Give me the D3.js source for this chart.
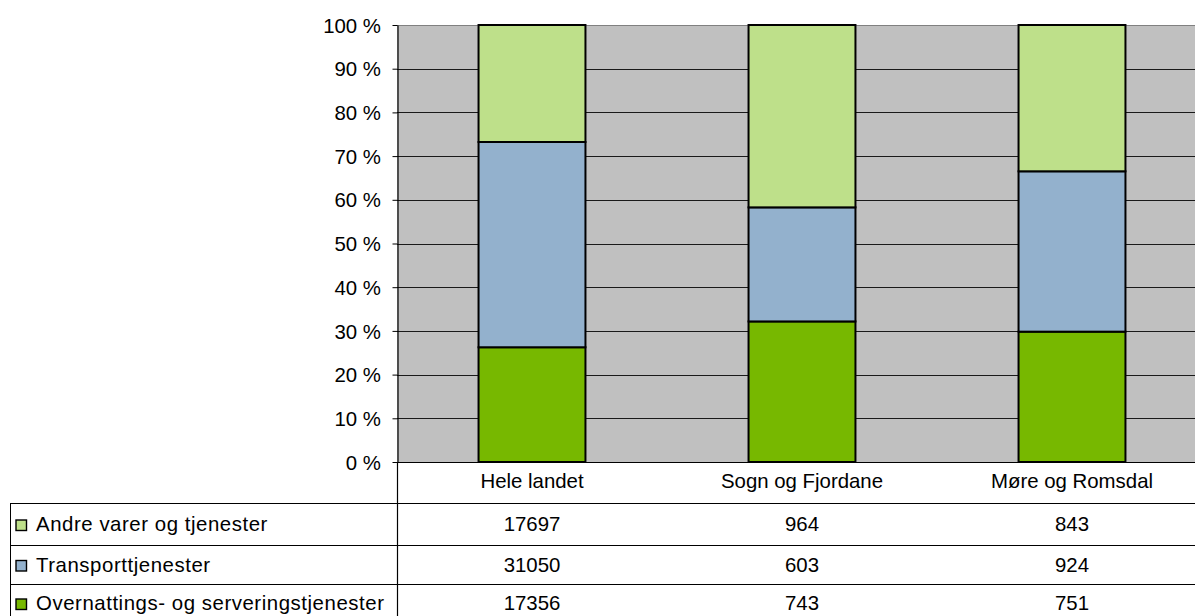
<!DOCTYPE html>
<html>
<head>
<meta charset="utf-8">
<script src="https://cdn.jsdelivr.net/npm/d3@7"></script>
<style>
  html, body { margin: 0; padding: 0; background: #fff; }
  svg { display: block; font-family: "Liberation Sans", Arial, sans-serif; }
</style>
</head>
<body>
<svg id="chart" width="1195" height="616"></svg>
<script>
// Regions shown as columns
const categories = ["Hele landet", "Sogn og Fjordane", "Møre og Romsdal"];
// Series, bottom to top of each column
const seriesKeys = ["overnatting", "transport", "andre"];
const seriesNames = ["Overnattings- og serveringstjenester", "Transporttjenester", "Andre varer og tjenester"];
const overnatting = [17356, 743, 751];
const transport = [31050, 603, 924];
const andre = [17697, 964, 843];
// Percent axis ticks
const yTicks = [0, 10, 20, 30, 40, 50, 60, 70, 80, 90, 100];

const colors = { overnatting: "#77b800", transport: "#93b1cd", andre: "#bee08a" };
const seriesValues = { overnatting, transport, andre };

const rows = categories.map((c, i) => ({
  category: c,
  overnatting: overnatting[i],
  transport: transport[i],
  andre: andre[i]
}));

const svg = d3.select("#chart");
const fontSize = "20.4px";

const plotLeft = 397, plotRight = 1207, plotTop = 25, plotBottom = 462;

const x = d3.scaleBand().domain(categories).range([plotLeft, plotRight]).padding(0);
const y = d3.scaleLinear().domain([0, 1]).range([plotBottom, plotTop]);
const barWidth = x.bandwidth() * 0.396;

const stacked = d3.stack().keys(seriesKeys).offset(d3.stackOffsetExpand)(rows);

// Plot background
svg.append("rect")
  .attr("x", plotLeft).attr("y", plotTop)
  .attr("width", plotRight - plotLeft).attr("height", plotBottom - plotTop)
  .attr("fill", "#c0c0c0");

// Horizontal gridlines
svg.append("g").selectAll("line")
  .data(yTicks.filter(t => t > 0 && t < 100))
  .join("line")
  .attr("x1", plotLeft).attr("x2", plotRight)
  .attr("y1", d => Math.round(y(d / 100)) + 0.5)
  .attr("y2", d => Math.round(y(d / 100)) + 0.5)
  .attr("stroke", "#1a1a1a").attr("stroke-width", 1);

// Top border of the plot area
svg.append("line")
  .attr("x1", plotLeft).attr("x2", plotRight)
  .attr("y1", plotTop + 0.5).attr("y2", plotTop + 0.5)
  .attr("stroke", "#808080").attr("stroke-width", 1);

// Stacked columns
svg.append("g").selectAll("g")
  .data(stacked)
  .join("g")
  .attr("fill", d => colors[d.key])
  .selectAll("rect")
  .data(d => d)
  .join("rect")
  .attr("x", d => x(d.data.category) + (x.bandwidth() - barWidth) / 2)
  .attr("y", d => y(d[1]))
  .attr("width", barWidth)
  .attr("height", d => y(d[0]) - y(d[1]))
  .attr("stroke", "#000")
  .attr("stroke-width", 2);

// Y axis
const yAxis = d3.axisLeft(y)
  .tickValues(yTicks.map(t => t / 100))
  .tickSize(5)
  .tickSizeOuter(0)
  .tickFormat(d => Math.round(d * 100) + " %");

const gy = svg.append("g")
  .attr("transform", `translate(${plotLeft + 0.5},0)`)
  .call(yAxis);
gy.select(".domain").attr("stroke", "#000").attr("stroke-width", 1.2);
gy.selectAll(".tick line").attr("stroke", "#000");
gy.selectAll(".tick text")
  .attr("x", -16.5)
  .attr("dy", "0.35em")
  .attr("text-anchor", "end")
  .attr("fill", "#000")
  .style("font-size", fontSize)
  .style("font-family", "'Liberation Sans', Arial, sans-serif");

// Category axis line along the bottom of the plot
svg.append("line")
  .attr("x1", plotLeft).attr("x2", plotRight)
  .attr("y1", plotBottom + 0.5).attr("y2", plotBottom + 0.5)
  .attr("stroke", "#000").attr("stroke-width", 1.2);

// Data table beneath the plot
const tableLeft = 10.5;
const rowLines = [503, 545, 584];
const tableBottom = 622;
const tableRows = [
  { key: "andre", top: 503, bottom: 545 },
  { key: "transport", top: 545, bottom: 584 },
  { key: "overnatting", top: 584, bottom: tableBottom }
];

const table = svg.append("g");

table.selectAll("line.row")
  .data(rowLines)
  .join("line")
  .attr("class", "row")
  .attr("x1", tableLeft).attr("x2", plotRight)
  .attr("y1", d => d + 0.5).attr("y2", d => d + 0.5)
  .attr("stroke", "#000").attr("stroke-width", 1);

table.append("line")
  .attr("x1", plotLeft + 0.5).attr("x2", plotLeft + 0.5)
  .attr("y1", plotBottom).attr("y2", tableBottom)
  .attr("stroke", "#000").attr("stroke-width", 1.2);

table.append("line")
  .attr("x1", tableLeft).attr("x2", tableLeft)
  .attr("y1", 503).attr("y2", tableBottom)
  .attr("stroke", "#000").attr("stroke-width", 1);

// Category headers
table.selectAll("text.cat")
  .data(categories)
  .join("text")
  .attr("class", "cat")
  .attr("x", d => x(d) + x.bandwidth() / 2)
  .attr("y", 488)
  .attr("text-anchor", "middle")
  .style("font-size", fontSize)
  .text(d => d);

// Series rows: legend key, name, values
tableRows.forEach(r => {
  const mid = (r.top + r.bottom) / 2;
  const baseline = mid + 7;
  const idx = seriesKeys.indexOf(r.key);
  table.append("rect")
    .attr("x", 16).attr("y", baseline - 11)
    .attr("width", 10.5).attr("height", 10.5)
    .attr("fill", colors[r.key])
    .attr("stroke", "#000").attr("stroke-width", 1.4);
  table.append("text")
    .attr("x", 36).attr("y", baseline)
    .style("font-size", fontSize)
    .style("letter-spacing", "0.55px")
    .text(seriesNames[idx]);
  table.selectAll(null)
    .data(seriesValues[r.key])
    .join("text")
    .attr("x", (d, i) => x(categories[i]) + x.bandwidth() / 2)
    .attr("y", baseline)
    .attr("text-anchor", "middle")
    .style("font-size", fontSize)
    .text(d => d);
});
</script>
</body>
</html>
